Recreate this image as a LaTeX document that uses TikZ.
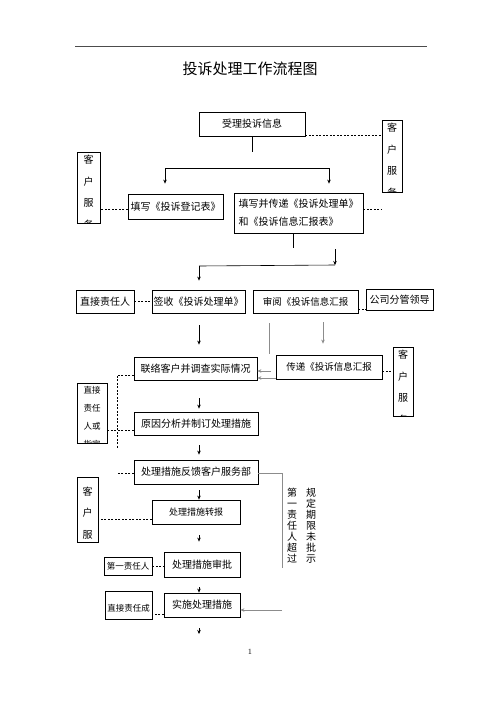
\documentclass[tikz,border=0pt]{standalone}
\usepackage{fontspec}
\newfontfamily\cjk{Noto Sans CJK SC}
\usetikzlibrary{arrows.meta}
\usetikzlibrary{positioning}
\tikzset {
  flow path/.style = {
    draw = black,
    line width = 0.6pt
  },
  % path style with an arrow tip at the end
  arr/.style = {
    flow path,
    -{Stealth[length = 4pt, width = 3.5pt]}
  },
  % path style with no arrows
  narr/.style = {
    flow path
  },
  % dashed link to a side box
  dline/.style = {
    flow path,
    dash pattern = on 2pt off 1.5pt
  },
  % grey path, with and without a tip
  gline/.style = {
    flow path,
    draw = black!45
  },
  garr/.style = {
    arr,
    draw = black!45
  },
  rule/.style = {
    draw = black!70,
    line width = 0.7pt
  }
}
\tikzset {
  flow node/.style = {
    draw = black,
    line width = 0.8pt,
    inner sep = 0pt,
    font = \cjk\fontsize{10}{12}\selectfont
  },
  % process step
  proc/.style = {
    flow node,
    rectangle
  },
  % narrow side box, text runs down and is cut by the border
  side/.style = {
    flow node,
    rectangle,
    path picture = {
      \node[anchor = north, align = center, inner sep = 0pt,
        font = \cjk\fontsize{10}{21.5}\selectfont]
        at ([yshift = -3pt]path picture bounding box.north) {#1};
    }
  },
  sidesmall/.style = {
    flow node,
    rectangle,
    path picture = {
      \node[anchor = north, align = center, inner sep = 0pt,
        font = \cjk\fontsize{8.5}{18}\selectfont]
        at ([yshift = -3pt]path picture bounding box.north) {#1};
    }
  },
  % vertical note beside the loop
  note/.style = {
    align = center,
    inner sep = 0pt,
    font = \cjk\fontsize{10}{11}\selectfont
  },
  title/.style = {
    font = \cjk\fontsize{15}{18}\selectfont
  }
}
\begin{document}
\begin{tikzpicture}[x = 1pt, y = -1pt]
  \fill[white] (0,0) rectangle (500,707);
  \draw[rule] (75,46) -- (427,46);
  \node[title] (title) at (250,69) {投诉处理工作流程图};
  \coordinate (axis) at (199,0);

  \node[proc, minimum width = 106pt, minimum height = 24pt] (accept) at (252,124) {受理投诉信息};
  \node[side = {客\\户\\服\\务}, minimum width = 20pt, minimum height = 72pt] (kfTop) at (392,156) {};
  \node[side = {客\\户\\服\\务}, minimum width = 23pt, minimum height = 71pt] (kfLeft) at (88.5,187.5) {};
  \node[proc, minimum width = 95pt, minimum height = 25pt] (regForm) at (175.5,206.5) {填写《投诉登记表》};
  \node[proc, align = left, minimum width = 129pt, minimum height = 40pt,
    font = \cjk\fontsize{10}{18}\selectfont] (passForm) at (298.5,213)
    {填写并传递《投诉处理单》\\和《投诉信息汇报表》};

  \node[proc, minimum width = 58pt, minimum height = 23pt] (direct) at (105,301.5) {直接责任人};
  \node[proc, minimum width = 93pt, minimum height = 23pt] (signForm) at (198.5,301.5) {签收《投诉处理单》};
  \node[proc, minimum width = 105pt, minimum height = 23pt,
    font = \cjk\fontsize{9.5}{12}\selectfont] (review) at (305.5,301.5) {审阅《投诉信息汇报};
  \node[proc, minimum width = 67pt, minimum height = 21pt] (leader) at (399.5,299.5) {公司分管领导};

  \node[proc, minimum width = 123pt, minimum height = 23pt] (contact) at (195.5,368.5) {联络客户并调查实际情况};
  \node[proc, minimum width = 106pt, minimum height = 24pt,
    font = \cjk\fontsize{9.5}{12}\selectfont] (transfer) at (329,367) {传递《投诉信息汇报};
  \node[side = {客\\户\\服\\务}, minimum width = 20pt, minimum height = 69pt] (kfRight) at (403,381.5) {};
  \node[sidesmall = {直接\\责任\\人或\\指定}, minimum width = 30pt, minimum height = 60pt] (direct2) at (92,413) {};
  \node[proc, minimum width = 124pt, minimum height = 23pt] (cause) at (196,423.5) {原因分析并制订处理措施};

  \node[proc, minimum width = 124pt, minimum height = 24pt] (feedback) at (196,472) {处理措施反馈客户服务部};
  \node[side = {客\\户\\服}, minimum width = 21pt, minimum height = 65pt] (kfLow) at (87.5,509.5) {};
  \node[proc, minimum width = 88pt, minimum height = 24pt,
    font = \cjk\fontsize{9}{12}\selectfont] (relay) at (196,512) {处理措施转报};
  \node[proc, minimum width = 48pt, minimum height = 18pt,
    font = \cjk\fontsize{8.5}{12}\selectfont] (first) at (128,566) {第一责任人};
  \node[proc, minimum width = 76pt, minimum height = 25pt] (approve) at (202,564.5) {处理措施审批};
  \node[sidesmall = {直接责任成}, minimum width = 47pt, minimum height = 28pt] (direct3) at (128.5,605) {};
  \node[proc, minimum width = 76pt, minimum height = 24pt] (implement) at (202,605) {实施处理措施};
  \node[note] (overdue) at (292,526) {第\\一\\责\\任\\人\\超\\过};
  \node[note] (deadline) at (311,526) {规\\定\\期\\限\\未\\批\\示};
  \node[font = \fontsize{8}{10}\selectfont] (pageno) at (250,652) {1};

  \coordinate (stub1) at (252,152);
  \coordinate (forkL) at (165,168);
  \coordinate (forkR) at (329,168);
  \coordinate (passEnd) at (381,209);
  \coordinate (stub2) at (293,248);
  \coordinate (drop) at (335,249);
  \coordinate (joinR) at (335,265);
  \coordinate (joinL) at (199,266);
  \coordinate (backTop) at (269,354);
  \coordinate (backIn) at (271,371);
  \coordinate (revX) at (323,0);
  \coordinate (trunkTop) at (117,375);
  \coordinate (trunkBot) at (117,448);
  \coordinate (loopTop) at (282,473);
  \coordinate (loopBot) at (282,568);
  \coordinate (loopIn) at (282,610);
  \coordinate (tail) at (199,634);

  \draw[narr] (accept) -- (stub1);
  \draw[narr] (forkL) -- (forkR);
  \draw[arr, shorten >= 10pt] (forkL) -- (forkL |- regForm.north);
  \draw[arr, shorten >= 9pt] (forkR) -- (forkR |- passForm.north);
  \draw[dline] ([yshift = 1pt]accept.south east) -- ([yshift = 1pt]accept.south east -| kfTop.west);
  \draw[dline] ([yshift = -2.5pt]regForm.west) -- ([yshift = -2.5pt]regForm.west -| kfLeft.east);
  \draw[dline] ([yshift = 4pt]passForm.east) -- (passEnd);

  \draw[narr] (passForm.south -| stub2) -- (stub2);
  \draw[arr] (drop) -- (joinR);
  \draw[narr] (joinR) -- (joinL);
  \draw[arr, shorten >= 9pt] (joinL) -- (joinL |- signForm.north);

  \draw[dline] (direct) -- (signForm);
  \draw[dline] ([yshift = -8pt]review.east) -- ([yshift = -8pt]review.east -| leader.west);
  \draw[arr, shorten <= 12pt, shorten >= 12pt] (signForm.south -| axis) -- (contact.north -| axis);
  \draw[gline, shorten <= 10pt] (review.south -| backTop) -- (backTop);
  \draw[garr, shorten <= 9pt, shorten >= 11pt] (review.south -| revX) -- (transfer.north -| revX);
  \draw[garr] (backIn) -- (backIn -| contact.east);
  \draw[garr] ([yshift = -11pt]transfer.west) -- ([yshift = -11pt]transfer.west -| contact.east);
  \draw[dline] ([yshift = -4pt]transfer.east) -- ([yshift = -4pt]transfer.east -| kfRight.west);

  \draw[dline] ([yshift = -6.5pt]contact.west) -- (trunkTop) -- (trunkBot);
  \draw[dline] ([yshift = -6.5pt]cause.west) -- ([yshift = -6.5pt]cause.west -| direct2.east);
  \draw[arr, shorten <= 18pt, shorten >= 3pt] (contact.south -| axis) -- (cause.north -| axis);
  \draw[arr, shorten <= 10pt, shorten >= 5pt] (cause.south -| axis) -- (feedback.north -| axis);
  \draw[dline] ([yshift = -1pt]feedback.west) -- ([yshift = -1pt]feedback.west -| trunkTop);

  \draw[gline] ([yshift = -1pt]feedback.east) -- (loopTop) -- (loopBot);
  \draw[garr] (loopIn) -- (loopIn -| implement.east);

  \draw[arr, shorten <= 6pt] (feedback.south -| axis) -- (relay.north -| axis);
  \draw[dline] ([yshift = -7pt]relay.west) -- ([yshift = -7pt]relay.west -| kfLow.east);
  \draw[arr, shorten <= 11pt, shorten >= 10pt] (relay.south -| axis) -- (approve.north -| axis);
  \draw[dline] (first.east) -- (first.east -| approve.west);
  \draw[arr, shorten <= 10pt] (approve.south -| axis) -- (implement.north -| axis);
  \draw[dline] ([yshift = -9pt]implement.west) -- ([yshift = -9pt]implement.west -| direct3.east);
  \draw[arr, shorten <= 11pt] (implement.south -| axis) -- (tail);
\end{tikzpicture}
\end{document}
